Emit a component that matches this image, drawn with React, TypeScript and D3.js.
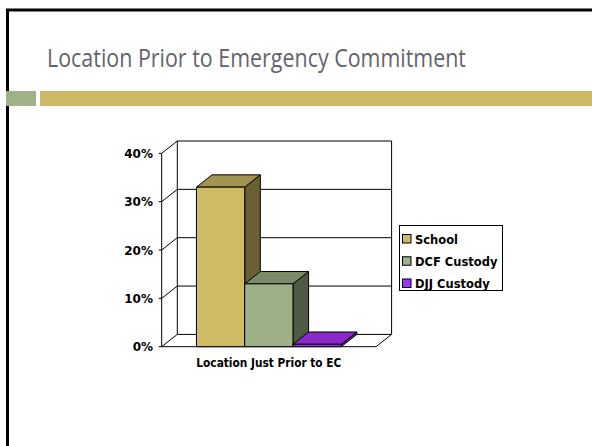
import { useEffect, useRef } from "react";
import * as d3 from "d3";

const TITLE = "Location Prior to Emergency Commitment";
const CATEGORY = "Location Just Prior to EC";
const SERIES = ["School", "DCF Custody", "DJJ Custody"];
const VALUES = [0.33, 0.13, 0.005];
const Y_TICKS = [0, 0.1, 0.2, 0.3, 0.4];

const FRONT = ["#cfbb66", "#9db088", "#a033ee"];
const TOP = ["#a39350", "#7b8a69", "#8a28c8"];
const SIDE = ["#6b5f34", "#4f5a44", "#5c1a8a"];

const W = 592, H = 446;
const DX = 15.6, DY = -12.3;
const FONT = "'DejaVu Sans', sans-serif";

export default function App() {
  const svgRef = useRef<SVGSVGElement>(null);

  useEffect(() => {
    if (!svgRef.current) return;
    const svg = d3.select(svgRef.current);
    svg.selectAll("*").remove();

    svg.append("rect").attr("width", W).attr("height", H).attr("fill", "#fff");
    // slide frame
    svg.append("rect").attr("x", 7.5).attr("y", 10).attr("width", W + 20).attr("height", H + 20)
      .attr("fill", "none").attr("stroke", "#000").attr("stroke-width", 3);

    svg.append("text").attr("x", 47).attr("y", 66.5)
      .attr("font-family", "'Open Sans', sans-serif").attr("font-size", 25).attr("fill", "#64646c")
      .attr("textLength", 419).attr("lengthAdjust", "spacingAndGlyphs")
      .text(TITLE);

    svg.append("rect").attr("x", 6).attr("y", 91).attr("width", 30).attr("height", 15).attr("fill", "#9fb187");
    svg.append("rect").attr("x", 40).attr("y", 91).attr("width", W - 40).attr("height", 15).attr("fill", "#cdb866");

    const left = 161.7, right = 376;
    const y = d3.scaleLinear().domain([0, 0.4]).range([346.7, 153.3]);
    const x0 = d3.scaleBand().domain([CATEGORY]).range([left, right]).paddingOuter(0.24).paddingInner(0);
    const x1 = d3.scaleBand().domain(SERIES).range([0, x0.bandwidth()]);

    const g = svg.append("g").attr("fill", "none").attr("stroke", "#000").attr("stroke-width", 1);
    const line = (a: number, b: number, c: number, d: number) =>
      g.append("line").attr("x1", a).attr("y1", b).attr("x2", c).attr("y2", d);

    // back wall + side wall gridlines
    Y_TICKS.forEach(t => {
      line(left, y(t), left + DX, y(t) + DY);
      line(left + DX, y(t) + DY, right + DX, y(t) + DY);
      line(left - 3, y(t), left, y(t));
    });
    line(left, y(0), left, y(0.4));
    line(left + DX, y(0) + DY, left + DX, y(0.4) + DY);
    line(right + DX, y(0) + DY, right + DX, y(0.4) + DY);
    line(left, y(0), right, y(0));
    line(right, y(0), right + DX, y(0) + DY);

    // bars
    SERIES.forEach((s, i) => {
      const bx = x0(CATEGORY)! + x1(s)!, bw = x1.bandwidth();
      const y0 = y(0), yt = y(VALUES[i]);
      const bg = svg.append("g").attr("stroke", "#000").attr("stroke-width", 1).attr("stroke-linejoin", "round");
      bg.append("path").attr("fill", SIDE[i])
        .attr("d", `M${bx + bw},${y0}L${bx + bw + DX},${y0 + DY}L${bx + bw + DX},${yt + DY}L${bx + bw},${yt}Z`);
      bg.append("path").attr("fill", TOP[i])
        .attr("d", `M${bx},${yt}L${bx + DX},${yt + DY}L${bx + bw + DX},${yt + DY}L${bx + bw},${yt}Z`);
      bg.append("rect").attr("fill", FRONT[i]).attr("x", bx).attr("y", yt).attr("width", bw).attr("height", y0 - yt);
    });

    // y tick labels
    svg.append("g").selectAll("text").data(Y_TICKS).join("text")
      .attr("x", 153).attr("y", d => y(d) + 4.5)
      .attr("text-anchor", "end").attr("font-family", FONT).attr("font-weight", "bold")
      .attr("font-size", 12).attr("fill", "#000")
      .text(d => d3.format(".0%")(d));

    svg.append("text").attr("x", x0(CATEGORY)! + x0.bandwidth() / 2).attr("y", 367)
      .attr("text-anchor", "middle").attr("font-family", FONT).attr("font-weight", "bold")
      .attr("font-size", 12).attr("textLength", 145).attr("lengthAdjust", "spacingAndGlyphs")
      .attr("fill", "#000").text(CATEGORY);

    // legend
    const lg = svg.append("g");
    lg.append("rect").attr("x", 399.5).attr("y", 225.5).attr("width", 103).attr("height", 65)
      .attr("fill", "#fff").attr("stroke", "#000");
    const ly = d3.scalePoint().domain(SERIES).range([239, 283.5]);
    SERIES.forEach((s, i) => {
      lg.append("rect").attr("x", 402.5).attr("y", ly(s)! - 4.5).attr("width", 8.5).attr("height", 8.5)
        .attr("fill", i === 2 ? "#a033ff" : FRONT[i]).attr("stroke", "#000");
      lg.append("text").attr("x", 415).attr("y", ly(s)! + 4.5)
        .attr("font-family", FONT).attr("font-weight", "bold").attr("font-size", 11.5).attr("fill", "#000")
        .text(s);
    });
  }, []);

  return (
    <div style={{ position: "fixed", left: 0, top: 0 }}>
      <svg ref={svgRef} width={W} height={H} style={{ display: "block" }} />
    </div>
  );
}
